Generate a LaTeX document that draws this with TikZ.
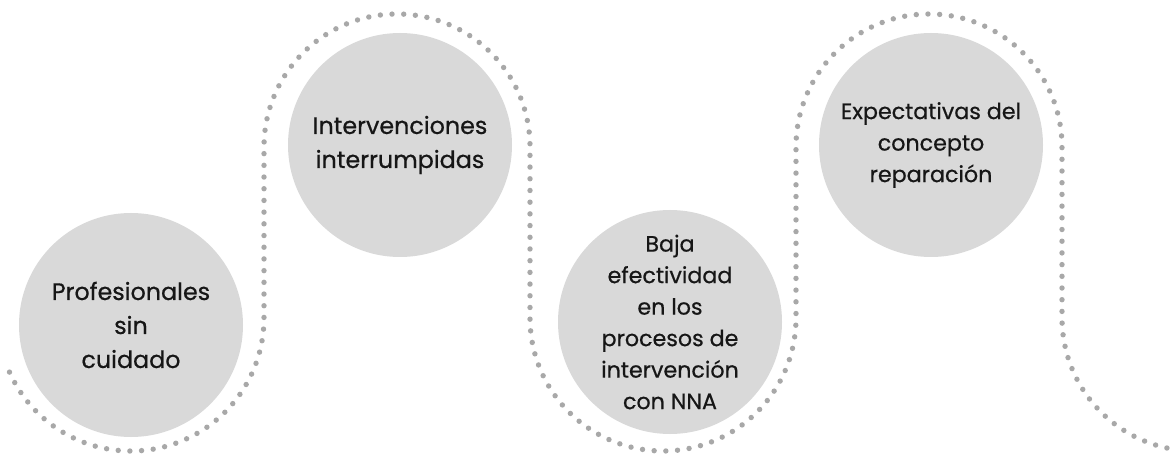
\documentclass[tikz,border=0pt]{standalone}
\usepackage{fontspec}
\setmainfont{Poppins}[FakeBold=0.6]
\definecolor{dotgray}{RGB}{168,168,168}
\definecolor{circfill}{RGB}{217,217,217}
\definecolor{txt}{RGB}{22,22,22}
\begin{document}
\begin{tikzpicture}[x=1pt,y=-1pt,
  bubble/.style={circle,fill=circfill,minimum size=224pt,inner sep=0pt,align=center,text=txt},
  bigtext/.style={font=\fontsize{23.8}{34}\selectfont},
  smalltext/.style={font=\fontsize{22.2}{31.5}\selectfont},
  dotline/.style={draw=dotgray,line width=5.4pt,line cap=round,dash pattern=on 0pt off 11.7pt}]
\useasboundingbox (0,0) rectangle (1170,454);
\fill[white] (0,0) rectangle (1170,454);
\begin{scope}
\clip (0,0) rectangle (1170,454);
\draw[dotline] (9.5,372.1) arc[start angle=156, end angle=0, radius=133]
  -- (264,147) arc[start angle=180, end angle=360, radius=133]
  -- (530,318) arc[start angle=180, end angle=0, radius=133]
  -- (796,147) arc[start angle=180, end angle=360, radius=133]
  -- (1062,318) arc[start angle=180, end angle=100, radius=133];
\end{scope}
\node[bubble,bigtext] (c1) at (131,325) {Profesionales\\sin\\cuidado};
\node[bubble,bigtext] (c2) at (400,145) {Intervenciones\\interrumpidas};
\node[bubble,smalltext] (c3) at (670,322) {Baja\\efectividad\\en los\\procesos de\\intervención\\con NNA};
\node[bubble,smalltext] (c4) at (931,145) {Expectativas del\\concepto\\reparación};
\end{tikzpicture}
\end{document}
